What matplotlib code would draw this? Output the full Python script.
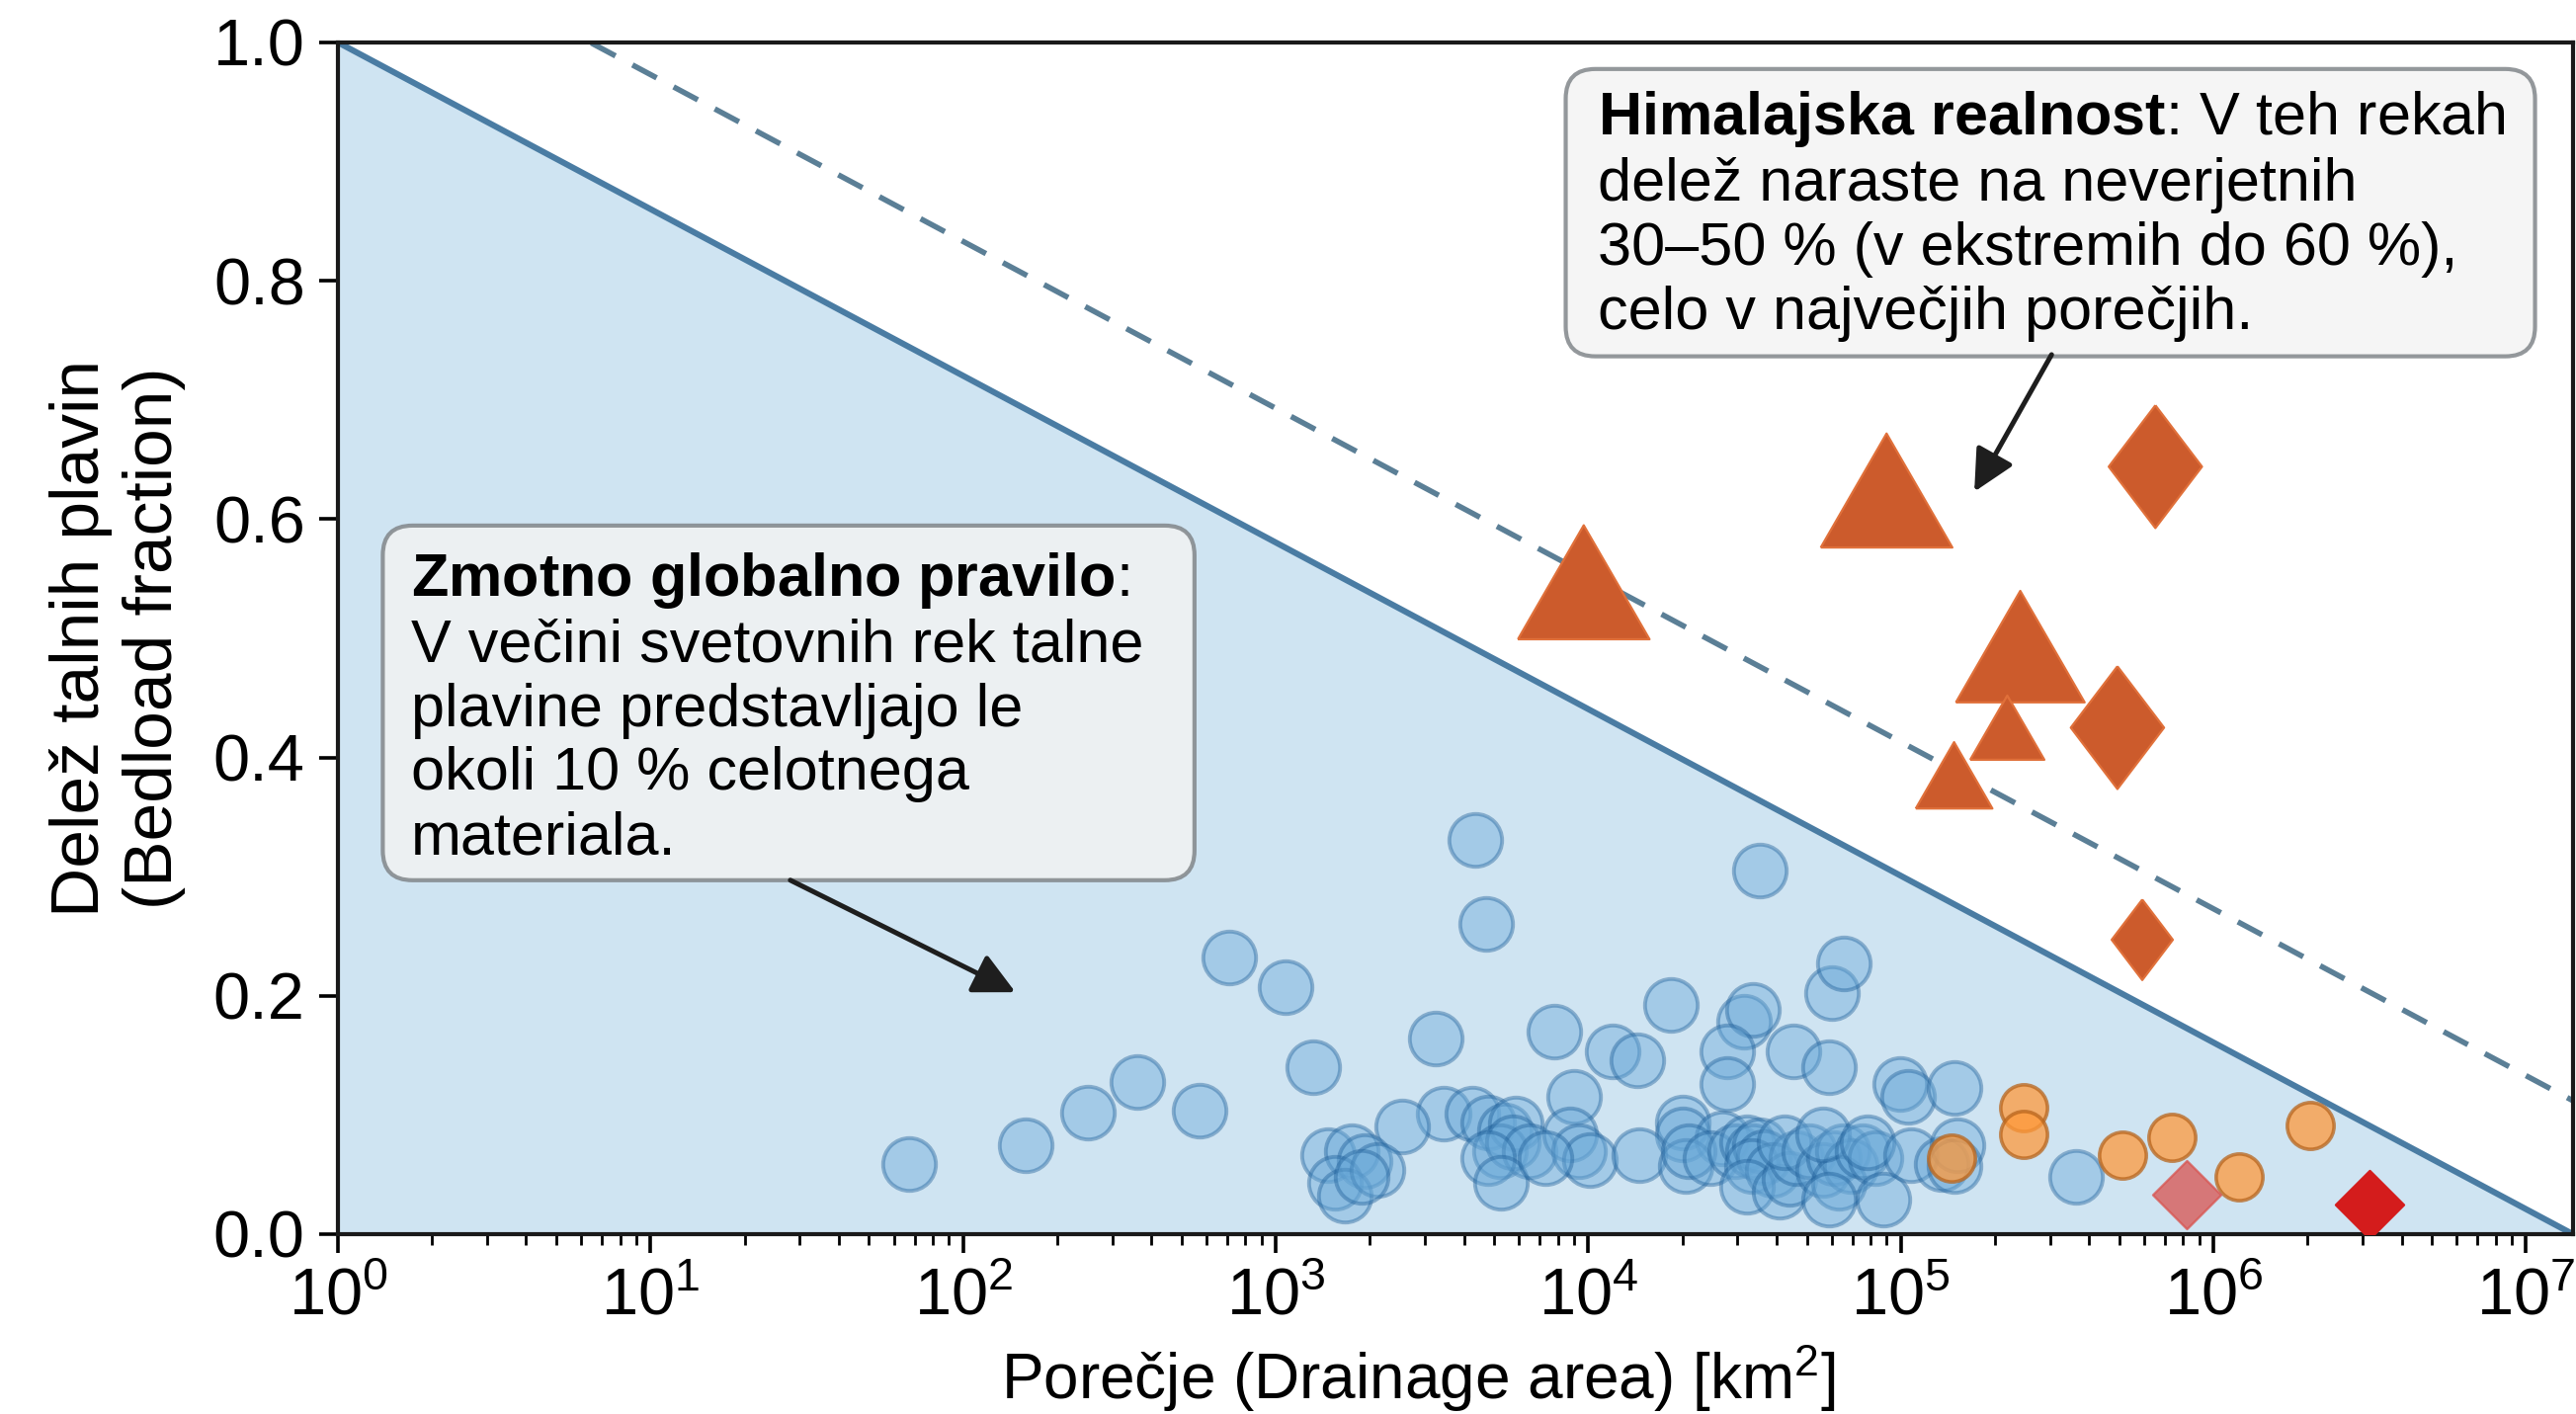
import matplotlib
matplotlib.use("Agg")
import matplotlib.pyplot as plt
from matplotlib.patches import FancyBboxPatch

plt.rcParams['font.family'] = ['Liberation Sans', 'DejaVu Sans']
plt.rcParams['mathtext.fontset'] = 'custom'
plt.rcParams['mathtext.rm'] = 'Liberation Sans'
plt.rcParams['mathtext.it'] = 'Liberation Sans:italic'
plt.rcParams['mathtext.bf'] = 'Liberation Sans:bold'

# --- data ---
# world rivers (blue circles): drainage area [km2], bedload fraction
world_area = [67, 158, 250, 361, 571, 711, 1075, 1321, 3240, 4340, 4720, 7770,
              12000, 14300, 18400, 35400, 31400, 33700, 27800, 27800, 45200,
              60400, 65800, 59000, 99400, 105600, 148000, 9000, 20000, 20000,
              26800, 3440, 2540,
              1470, 1745, 1920, 1545, 1660, 2120, 1880,
              4240, 4780, 5400, 5870, 5200, 5740, 6470, 4780, 5270, 8770, 9320,
              10150, 7310,
              14600, 20500, 21000, 24600,
              29500, 32100, 33700, 35400, 36300, 33300, 39000, 32100, 41000,
              44100, 46300, 42500,
              51000, 56200, 61200, 65000, 69000, 63400, 59000, 56200, 75200,
              82800, 88100, 78000,
              108000, 134600, 152000, 148000, 364000]
world_frac = [0.059, 0.075, 0.102, 0.128, 0.104, 0.232, 0.207, 0.140, 0.164,
              0.331, 0.260, 0.170, 0.153, 0.146, 0.192, 0.305, 0.178, 0.188,
              0.153, 0.126, 0.153, 0.202, 0.227, 0.140, 0.126, 0.115, 0.123,
              0.115, 0.094, 0.084, 0.080, 0.101, 0.090,
              0.066, 0.070, 0.061, 0.043, 0.032, 0.054, 0.048,
              0.101, 0.094, 0.087, 0.093, 0.070, 0.077, 0.070, 0.064, 0.043,
              0.084, 0.070, 0.062, 0.064,
              0.066, 0.057, 0.070, 0.064,
              0.070, 0.077, 0.070, 0.075, 0.065, 0.057, 0.054, 0.040, 0.036,
              0.046, 0.064, 0.077,
              0.070, 0.054, 0.064, 0.070, 0.057, 0.043, 0.029, 0.084, 0.070,
              0.064, 0.029, 0.077,
              0.066, 0.059, 0.075, 0.057, 0.048]

# large lowland rivers (orange circles)
large_area = [247000, 247000, 145000, 512000, 737000, 1210000, 2040000]
large_frac = [0.106, 0.084, 0.064, 0.066, 0.081, 0.048, 0.091]

# Himalayan rivers: triangles and diamonds, sizes from the reference
himal_tri_area = [9670, 90000, 241000, 219000, 148000]
himal_tri_frac = [0.547, 0.624, 0.493, 0.425, 0.385]
himal_tri_size = [2300, 2300, 2200, 730, 780]

himal_dia_area = [652000, 493000, 592000]
himal_dia_frac = [0.644, 0.425, 0.247]
himal_dia_size = [2000, 2000, 860]

# red diamonds
red_area = [822000, 3160000]
red_frac = [0.033, 0.025]
red_color = ['#d9534f', '#d41c1c']
red_alpha = [0.75, 1.0]

# envelope lines
guide_area = [1, 10 ** 7.15]
guide_frac = [1.0, 0.0]
himal_line_frac = [1.113, 0.112]

# marker shapes: equilateral triangle, slightly narrow diamond
tri_marker = [(-1, -0.866), (1, -0.866), (0, 0.866), (-1, -0.866)]
dia_marker = [(0, 1), (0.76, 0), (0, -1), (-0.76, 0), (0, 1)]

fig_w, fig_h = 13.035, 7.155
fig = plt.figure(figsize=(fig_w, fig_h), dpi=200)
ax = fig.add_axes([0.1312, 0.1272, 0.8676, 0.8428])
ax.set_xscale('log')

ax.fill_between(guide_area, 0, guide_frac, color='#cfe4f2', zorder=0, lw=0)
ax.plot(guide_area, guide_frac, color='#4a7ca3', lw=2.2, zorder=1)
ax.plot(guide_area, himal_line_frac, color='#5b7f96', lw=2.0, ls=(0, (5, 3.5)), zorder=1)

ax.scatter(world_area, world_frac, s=370, facecolor='#68a8d8', edgecolor='#1f5f99',
           linewidth=1.4, alpha=0.42, zorder=2)
ax.scatter(large_area, large_frac, s=290, facecolor='#ff9a3c', edgecolor='#b8651d',
           linewidth=1.3, alpha=0.75, zorder=3)
ax.scatter(himal_tri_area, himal_tri_frac, s=himal_tri_size, marker=tri_marker,
           facecolor='#cc5b2c', edgecolor='#e0703a', linewidth=0.8, zorder=4)
ax.scatter(himal_dia_area, himal_dia_frac, s=himal_dia_size, marker=dia_marker,
           facecolor='#cc5b2c', edgecolor='#e0703a', linewidth=0.8, zorder=4)
for a, f, c, al in zip(red_area, red_frac, red_color, red_alpha):
    ax.scatter([a], [f], s=310, marker='D', facecolor=c, edgecolor=c,
               linewidth=0.8, alpha=al, zorder=4)

ax.set_xlim(1, 10 ** 7.15)
ax.set_ylim(0, 1.0)
ax.set_yticks([0.0, 0.2, 0.4, 0.6, 0.8, 1.0])
ax.set_yticklabels(['0.0', '0.2', '0.4', '0.6', '0.8', '1.0'])

ax.tick_params(which='major', length=7, width=1.3, labelsize=24, direction='out', pad=5)
ax.tick_params(which='minor', length=4, width=1.0, direction='out')
for sp in ax.spines.values():
    sp.set_linewidth(1.5)
    sp.set_color('#1a1a1a')

ax.set_xlabel('Porečje (Drainage area) [km$^2$]', fontsize=23, labelpad=5)
ax.xaxis.label.set_x(0.4835)
ax.set_ylabel('Delež talnih plavin\n(Bedload fraction)', fontsize=25, labelpad=10)

# callout boxes (figure-fraction rectangles), rounded corners kept circular
for x0, y0, w, h in [(0.1486, 0.3775, 0.3151, 0.2508), (0.6078, 0.7480, 0.3763, 0.2032)]:
    patch = FancyBboxPatch((x0, y0), w, h, boxstyle='round,pad=0,rounding_size=0.0115',
                           mutation_aspect=fig_w / fig_h, transform=fig.transFigure,
                           facecolor='#f3f3f3', edgecolor='#7d8286', linewidth=1.5,
                           alpha=0.82, zorder=5)
    ax.add_artist(patch)

txt1 = ('$\\mathbf{Zmotno\\ globalno\\ pravilo}$:\n'
        'V večini svetovnih rek talne\n'
        'plavine predstavljajo le\n'
        'okoli 10 % celotnega\n'
        'materiala.')
ax.text(1.714, 0.574, txt1, fontsize=22, ha='left', va='top',
        linespacing=1.18, zorder=6)

txt2 = ('$\\mathbf{Himalajska\\ realnost}$: V teh rekah\n'
        'delež naraste na neverjetnih\n'
        '30–50 % (v ekstremih do 60 %),\n'
        'celo v največjih porečjih.')
ax.text(10700, 0.961, txt2, fontsize=22, ha='left', va='top',
        linespacing=1.18, zorder=6)

arrow = dict(arrowstyle='-|>', color='#1e1e1e', lw=1.8, mutation_scale=32,
             shrinkA=0, shrinkB=0)
ax.annotate('', xy=(147, 0.203), xytext=(28, 0.297), arrowprops=arrow, zorder=7)
ax.annotate('', xy=(171800, 0.623), xytext=(303500, 0.738), arrowprops=arrow, zorder=7)

fig.savefig('out.png', dpi=200)
